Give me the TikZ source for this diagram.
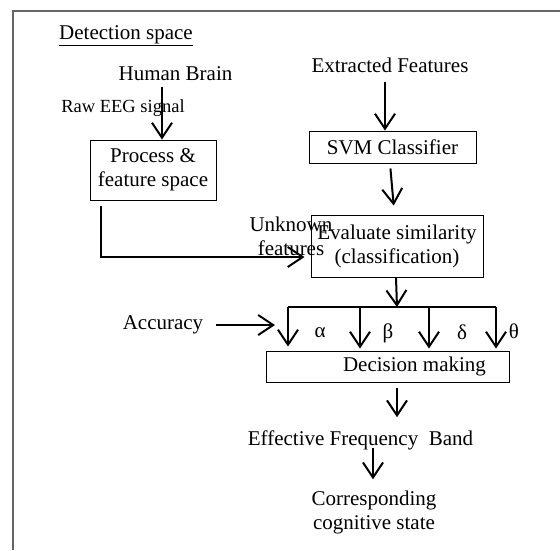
\documentclass[tikz,border=0pt]{standalone}
\usepackage{fontspec}
\setmainfont{Liberation Serif}
\usetikzlibrary{arrows.meta,calc}
\begin{document}
\begin{tikzpicture}[x=1pt,y=-1pt,
  font=\fontsize{21}{24}\selectfont,
  arr/.style={line width=2pt,-{Straight Barb[length=15pt,width=20pt,line width=2pt]}},
  bus/.style={line width=1.6pt},
  box/.style={draw,line width=1pt,inner sep=0pt,align=center},
  lbl/.style={inner sep=0pt,align=center},
  frame/.style={draw=black!60,line width=1.8pt}]
\useasboundingbox (0,0) rectangle (560,550);
% frame
\coordinate (fr1) at (13,550);
\coordinate (fr2) at (13,11);
\coordinate (fr3) at (560,11);
\draw[frame] (fr1) -- (fr2) -- (fr3);
% texts and boxes
\node[lbl,anchor=west] (ds) at (59,36) {\underline{Detection space}};
\node[lbl] (hb) at (175.5,74) {Human Brain};
\node[lbl,font=\fontsize{18.5}{22}\selectfont] (raw) at (123,108) {Raw EEG signal};
\node[box,minimum width=126,minimum height=60] (proc) at (153,170) {Process \&\\feature space};
\node[lbl] (ef) at (390,65.5) {Extracted Features};
\node[box,minimum width=167,minimum height=32] (svm) at (392.5,147) {SVM Classifier};
\node[box,minimum width=172,minimum height=62] (eval) at (397,246) {Evaluate similarity\\(classification)};
\node[lbl] (unk) at (291,236) {Unknown\\features};
\node[lbl] (acc) at (163,325) {Accuracy};
\node[lbl] (ga) at (320,333) {α};
\node[lbl] (gb) at (388,333) {β};
\node[lbl] (gd) at (462,332) {δ};
\node[lbl] (gt) at (514,331) {θ};
\node[box,minimum width=243,minimum height=31] (dec) at (387.5,366.5) {\hspace*{54pt}Decision making};
\node[lbl] (eff) at (360.5,440) {Effective Frequency\ \ Band};
\node[lbl] (corr) at (374,512) {Corresponding\\cognitive state};
% bus coordinates
\coordinate (b1) at (288,307);
\coordinate (b2) at (360,307);
\coordinate (b3) at (429,307);
\coordinate (b4) at (496,307);
% connectors
\draw[arr,shorten <=6pt] ([xshift=-13.5pt]hb.south) -- ([xshift=9pt]proc.north);
\draw[arr,shorten <=9pt] ([xshift=-5pt]ef.south) -- ([xshift=-7.5pt]svm.north);
\draw[arr,shorten <=5pt,shorten >=9pt] ([xshift=-2.5pt]svm.south) -- ([xshift=-2.5pt]eval.north);
\draw[arr,shorten <=5pt,shorten >=6pt] ([xshift=-52pt]proc.south) |- ([yshift=-11pt]eval.west);
\draw[arr] ([xshift=-1pt]eval.south) -- (eval.south |- b4);
\draw[bus] (b1) -- (b4);
\draw[arr,shorten >=4pt] (b1) -- (b1 |- dec.north);
\draw[arr,shorten >=2pt] (b2) -- (b2 |- dec.north);
\draw[arr,shorten >=2pt] (b3) -- (b3 |- dec.north);
\draw[arr,shorten >=2pt] (b4) -- (b4 |- dec.north);
\draw[arr,shorten <=13pt,shorten >=13pt] (acc.east) -- (acc.east -| b1);
\draw[arr,shorten <=5pt,shorten >=13pt] ([xshift=9.5pt]dec.south) -- ([xshift=9.5pt]dec.south |- eff.north);
\draw[arr,shorten <=-2pt,shorten >=11pt] ([xshift=12.5pt]eff.south) -- ([xshift=-1pt]corr.north);
\end{tikzpicture}
\end{document}
